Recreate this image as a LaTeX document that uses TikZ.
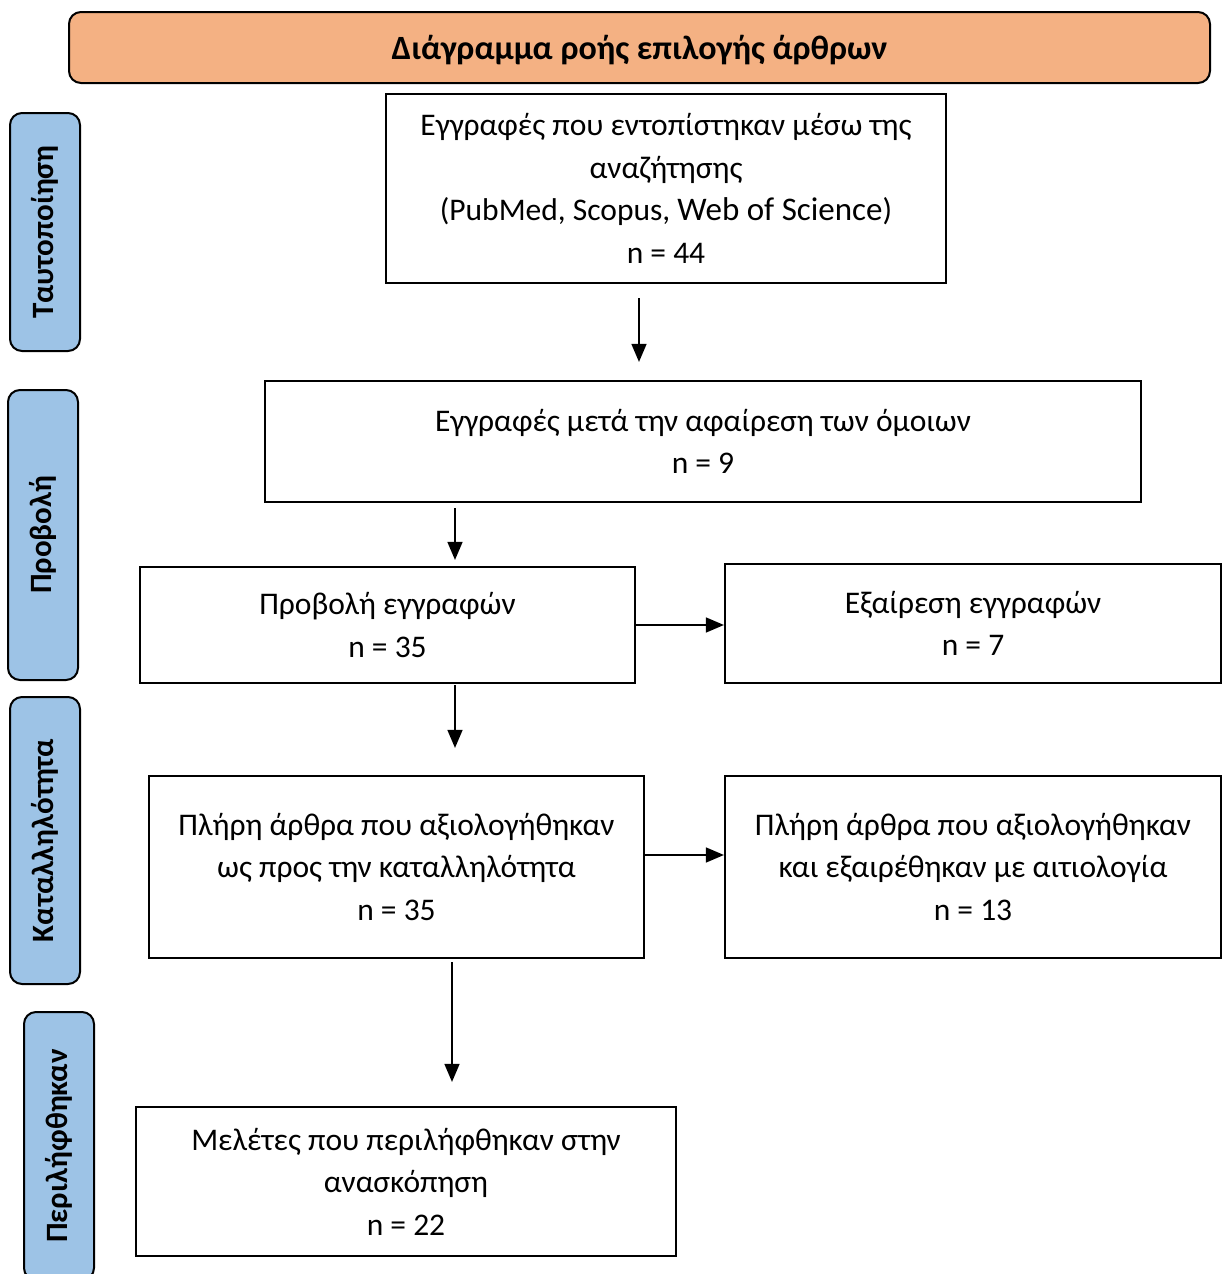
\documentclass[tikz,border=0pt]{standalone}
\usepackage{fontspec}
\setmainfont{Carlito}
\usetikzlibrary{arrows.meta,calc}
\definecolor{orangefill}{HTML}{F4B183}
\definecolor{bluefill}{HTML}{9DC3E6}
\begin{document}
\begin{tikzpicture}[x=1pt,y=-1pt,
  box/.style={draw,line width=2.2pt,align=center,inner sep=0pt,
    font=\fontsize{31.5}{42.5}\selectfont},
  side/.style={draw,line width=2pt,fill=bluefill,rounded corners=12pt,rotate=90,
    minimum height=70pt,inner sep=0pt,font=\bfseries\fontsize{31}{34}\selectfont},
  titlebox/.style={draw,line width=2pt,fill=orangefill,rounded corners=12pt,
    minimum width=1141pt,minimum height=71pt,inner sep=0pt,
    text height=27pt,text depth=4pt,
    font=\bfseries\fontsize{34}{38}\selectfont},
  arr/.style={line width=1.5pt,-{Triangle[length=18pt,width=15pt]}}]
\useasboundingbox (0,0) rectangle (1225,1274);

\node[titlebox] (T) at (639.5,47.5) {Διάγραμμα ροής επιλογής άρθρων};

\node[side,minimum width=238pt] (S1) at (45,232) {Ταυτοποίηση};
\node[side,minimum width=290pt] (S2) at (43,535) {Προβολή};
\node[side,minimum width=287pt] (S3) at (45,840.5) {Καταλληλότητα};
\node[side,minimum width=268pt] (S4) at (59,1146) {Περιλήφθηκαν};

\node[box,minimum width=560pt,minimum height=189pt] (B1) at (666,188.5)
  {Εγγραφές που εντοπίστηκαν μέσω της\\αναζήτησης\\(PubMed, Scopus, {\fontsize{33}{42.5}\selectfont Web of Science})\\n = 44};
\node[box,minimum width=876pt,minimum height=121pt] (B2) at (703,441.5)
  {Εγγραφές μετά την αφαίρεση των όμοιων\\n = 9};
\node[box,minimum width=495pt,minimum height=116pt] (B3) at (387.5,625)
  {Προβολή εγγραφών\\n = 35};
\node[box,minimum width=496pt,minimum height=119pt] (B4) at (973,623.5)
  {Εξαίρεση εγγραφών\\n = 7};
\node[box,minimum width=495pt,minimum height=182pt] (B5) at (396.5,867)
  {Πλήρη άρθρα που αξιολογήθηκαν\\ως προς την καταλληλότητα\\n = 35};
\node[box,minimum width=496pt,minimum height=182pt] (B6) at (973,867)
  {Πλήρη άρθρα που αξιολογήθηκαν\\και εξαιρέθηκαν με αιτιολογία\\n = 13};
\node[box,minimum width=540pt,minimum height=149pt] (B7) at (406,1181.5)
  {Μελέτες που περιλήφθηκαν στην\\ανασκόπηση\\n = 22};

\coordinate (c1) at (639,0);
\coordinate (c2) at (455,0);
\coordinate (c3) at (452,0);
\coordinate (r1) at (0,625);
\coordinate (r2) at (0,855);

\draw[arr,shorten <=14pt,shorten >=18pt] (B1.south -| c1) -- (B2.north -| c1);
\draw[arr,shorten <=5pt,shorten >=6pt] (B2.south -| c2) -- (B3.north -| c2);
\draw[arr] (B3.east |- r1) -- (B4.west |- r1);
\draw[arr,shorten <=1pt,shorten >=27pt] (B3.south -| c2) -- (B5.north -| c2);
\draw[arr] (B5.east |- r2) -- (B6.west |- r2);
\draw[arr,shorten <=3pt,shorten >=24pt] (B5.south -| c3) -- (B7.north -| c3);
\end{tikzpicture}
\end{document}
